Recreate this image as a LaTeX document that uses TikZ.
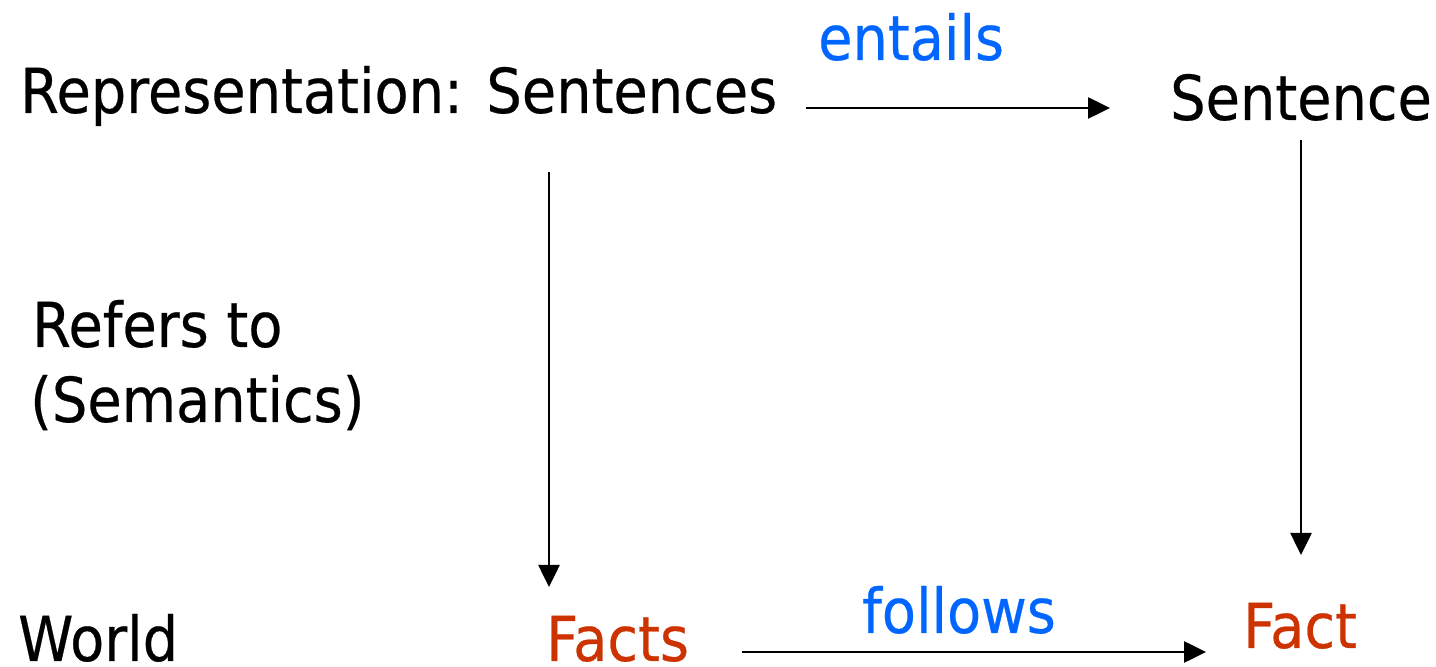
\documentclass[tikz,border=0pt]{standalone}
\usepackage{fontspec}
\setmainfont{DejaVu Sans}[FakeStretch=0.9,FakeBold=0.4]
\usetikzlibrary{arrows.meta}
\definecolor{relblue}{RGB}{0,102,255}
\definecolor{factred}{RGB}{204,51,0}
\begin{document}
\begin{tikzpicture}[x=1pt,y=1pt,
  lbl/.style={inner sep=0pt, anchor=base west, font=\fontsize{62}{74}\selectfont},
  rel/.style={lbl, text=relblue},
  fact/.style={lbl, text=factred},
  arr/.style={line width=2.6pt, -{Triangle[length=22pt,width=21pt]}}]
\useasboundingbox (0,0) rectangle (1436,667);
\node[lbl] (rep) at (20,554) {Representation: Sentences};
\node[lbl] (sent) at (1170,547) {Sentence};
\node[rel] (entails) at (818,607) {entails};
\node[lbl] (refers) at (32,320) {Refers to};
\node[lbl] (sem) at (30,245) {(Semantics)};
\node[lbl] (world) at (18,6) {World};
\node[fact] (facts) at (546,6) {Facts};
\node[fact] (fact) at (1243,19) {Fact};
\node[rel] (follows) at (862,34) {follows};
\coordinate (e1) at (806,559);
\coordinate (e2) at (1110,559);
\coordinate (l1) at (549,495);
\coordinate (l2) at (549,80);
\coordinate (r1) at (1301,527);
\coordinate (r2) at (1301,112);
\coordinate (f1) at (742,15);
\coordinate (f2) at (1206,15);
\draw[arr] (e1) -- (e2);
\draw[arr] (l1) -- (l2);
\draw[arr] (r1) -- (r2);
\draw[arr] (f1) -- (f2);
\end{tikzpicture}
\end{document}
